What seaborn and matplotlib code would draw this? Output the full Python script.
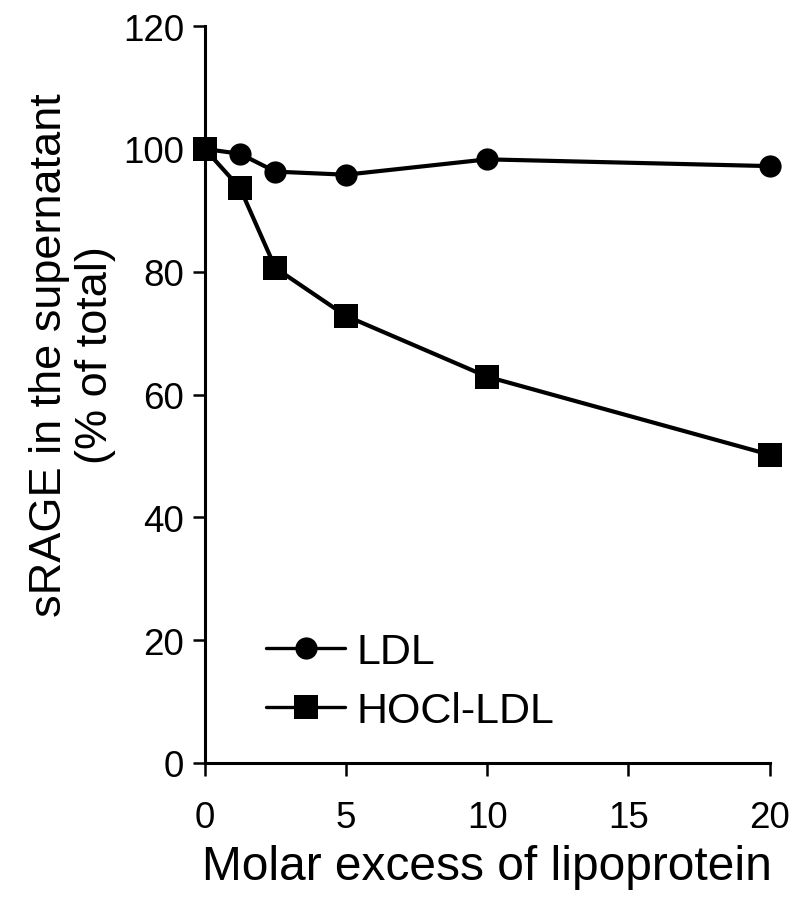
import matplotlib
matplotlib.use("Agg")
import matplotlib.pyplot as plt
import pandas as pd
import seaborn as sns

# molar excess of lipoprotein
molar_excess = [0, 1.25, 2.5, 5, 10, 20]
# sRAGE remaining in supernatant (% of total)
ldl_values = [100, 99.2, 96.3, 95.8, 98.3, 97.2]
hocl_ldl_values = [100, 93.6, 80.6, 72.8, 62.9, 50.2]
series_names = ["LDL", "HOCl-LDL"]

x_ticks = [0, 5, 10, 15, 20]
y_ticks = [0, 20, 40, 60, 80, 100, 120]

MARKER_SIZES = [16, 17.5]
LINE_WIDTH = 3.0


def build_frame() -> pd.DataFrame:
    rows = []
    for name, values in zip(series_names, [ldl_values, hocl_ldl_values]):
        for x, y in zip(molar_excess, values):
            rows.append({"excess": x, "srage": y, "series": name})
    return pd.DataFrame(rows)


def main() -> None:
    sns.set_theme(
        style="ticks",
        rc={
            "text.color": "black",
            "axes.labelcolor": "black",
            "xtick.color": "black",
            "ytick.color": "black",
        },
    )
    plt.rcParams["font.family"] = ["Liberation Sans", "DejaVu Sans"]

    df = build_frame()
    fig = plt.figure(figsize=(8, 9.04), dpi=100)
    ax = fig.add_axes([0.256, 0.155, 0.706, 0.815])

    sns.lineplot(
        data=df,
        x="excess",
        y="srage",
        style="series",
        style_order=series_names,
        markers={"LDL": "o", "HOCl-LDL": "s"},
        dashes=False,
        color="black",
        linewidth=LINE_WIDTH,
        ax=ax,
        clip_on=False,
    )
    for line, ms in zip(ax.lines, MARKER_SIZES):
        line.set_markersize(ms)
        line.set_markeredgewidth(0)
        line.set_markerfacecolor("black")
        line.set_zorder(5)

    ax.set_xlim(0, 20)
    ax.set_ylim(0, 120)
    ax.set_xticks(x_ticks)
    ax.set_yticks(y_ticks)
    ax.tick_params(axis="both", labelsize=26.5, length=9, width=1.8, pad=6)
    ax.tick_params(axis="x", pad=18)

    sns.despine(ax=ax)
    for side in ["left", "bottom"]:
        ax.spines[side].set_linewidth(2.2)
        ax.spines[side].set_color("black")

    ax.set_xlabel("Molar excess of lipoprotein", fontsize=34.5, labelpad=6)
    ax.set_ylabel("sRAGE in the supernatant\n(% of total)", fontsize=32.5,
                  linespacing=1.15)
    ax.yaxis.set_label_coords(-0.158, 0.555)

    handles, labels = ax.get_legend_handles_labels()
    for h, ms in zip(handles, MARKER_SIZES):
        h.set_markersize(ms)
        h.set_markeredgewidth(0)
        h.set_linewidth(2.4)
        h.set_color("black")
    ax.legend(
        handles,
        labels,
        loc="lower left",
        bbox_to_anchor=(0.108, 0.043),
        frameon=False,
        fontsize=31,
        handlelength=1.85,
        handletextpad=0.25,
        labelspacing=0.45,
        borderpad=0,
        borderaxespad=0,
    )

    fig.savefig("out.png", dpi=100)
    plt.close(fig)


if __name__ == "__main__":
    main()
